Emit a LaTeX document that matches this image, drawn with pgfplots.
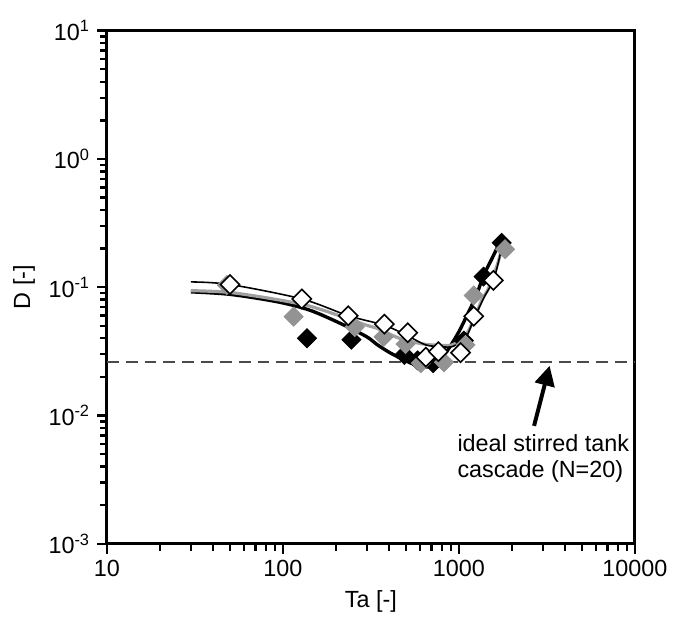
\documentclass[border=0pt]{standalone}
\usepackage{pgfplots}
\pgfplotsset{compat=1.18}
\usepackage{fontspec}
\setmainfont{Liberation Sans}
\usetikzlibrary{arrows.meta}
\definecolor{markgray}{HTML}{939393}
\definecolor{linegray}{HTML}{A0A0A0}
\definecolor{dashgray}{HTML}{4A4A4A}

\begin{document}
\begin{tikzpicture}
\begin{loglogaxis}[
    scale only axis,
    width=266.5pt, height=259pt,
    xmin=10, xmax=10000,
    ymin=1e-3, ymax=10,
    font=\fontsize{11.8}{13.2}\selectfont,
    axis line style={line width=1.5pt},
    tick style={line width=1.2pt, black},
    tick align=outside,
    major tick length=5pt,
    minor tick length=3.5pt,
    xtick pos=lower, ytick pos=left,
    xtick={10,100,1000,10000},
    xticklabels={10,100,1000,10000},
    ytick={1e-3,1e-2,1e-1,1,10},
    yticklabels={10\textsuperscript{-3},10\textsuperscript{-2},10\textsuperscript{-1},10\textsuperscript{0},10\textsuperscript{1}},
    xlabel={Ta [-]},
    ylabel={D [-]},
    clip=false,
  ]

  % frame of the whole picture
  \path (rel axis cs:-0.2026,-0.1409) rectangle (rel axis cs:1.0619,1.0598);

  % ideal stirred tank cascade
  \addplot[dashgray, line width=1pt, dash pattern=on 6pt off 3.5pt]
    coordinates {(10,0.026) (10000,0.026)};

  % model curves
  \addplot[black, line width=1.7pt, smooth, tension=0.5] coordinates {
    (30,0.092) (50,0.088) (93,0.077) (143,0.066) (220,0.051) (300,0.041)
    (340,0.036) (403,0.031) (490,0.027) (582,0.0245) (706,0.024) (780,0.027)
    (877,0.0334) (1000,0.045) (1089,0.057) (1250,0.085) (1380,0.123)
    (1550,0.17) (1754,0.243)
  };
  \addplot[linegray, line width=1.6pt, smooth, tension=0.5] coordinates {
    (30,0.094) (50,0.091) (93,0.080) (143,0.071) (220,0.0586) (298,0.0506)
    (340,0.048) (459,0.040) (600,0.0365) (706,0.0355) (916,0.0355)
    (1089,0.0424) (1186,0.052) (1352,0.080) (1472,0.098) (1678,0.16)
    (1790,0.235)
  };
  \addplot[black, line width=0.8pt, smooth, tension=0.5] coordinates {
    (30,0.11) (50,0.105) (128,0.081) (235,0.060) (377,0.0505) (501,0.0424)
    (649,0.0355) (806,0.0344) (916,0.0344) (1089,0.040) (1213,0.056)
    (1400,0.085) (1570,0.113) (1700,0.17) (1800,0.25)
  };

  % measurements
  \addplot[only marks, mark=square*, mark size=3.4pt,
    mark options={rotate=45, fill=black, draw=black}] coordinates {
    (137,0.040) (245,0.039) (490,0.0297) (582,0.0269) (713,0.0256)
    (1067,0.0383) (1380,0.121) (1750,0.222)
  };
  \addplot[only marks, mark=square*, mark size=3.4pt,
    mark options={rotate=45, fill=markgray, draw=markgray}] coordinates {
    (48,0.104) (115,0.059) (256,0.049) (373,0.041) (497,0.036) (608,0.0256)
    (822,0.026) (1089,0.0355) (1213,0.0863) (1829,0.198)
  };
  \addplot[only marks, mark=square*, mark size=3.4pt,
    mark options={rotate=45, fill=white, draw=black, line width=0.8pt}] coordinates {
    (50,0.105) (128,0.081) (235,0.060) (377,0.0515) (512,0.0442) (649,0.0285)
    (764,0.0315) (1021,0.0309) (1213,0.0594) (1570,0.113)
  };

  % annotation
  \draw[line width=2pt, -{Triangle[width=10pt,length=10pt]}]
    (axis cs:2673,0.0083) -- (axis cs:3275,0.0244);
  \node[anchor=north west, align=left, inner sep=0pt]
    at (axis cs:977,0.0072) {ideal stirred tank\\cascade (N=20)};

\end{loglogaxis}
\end{tikzpicture}
\end{document}
